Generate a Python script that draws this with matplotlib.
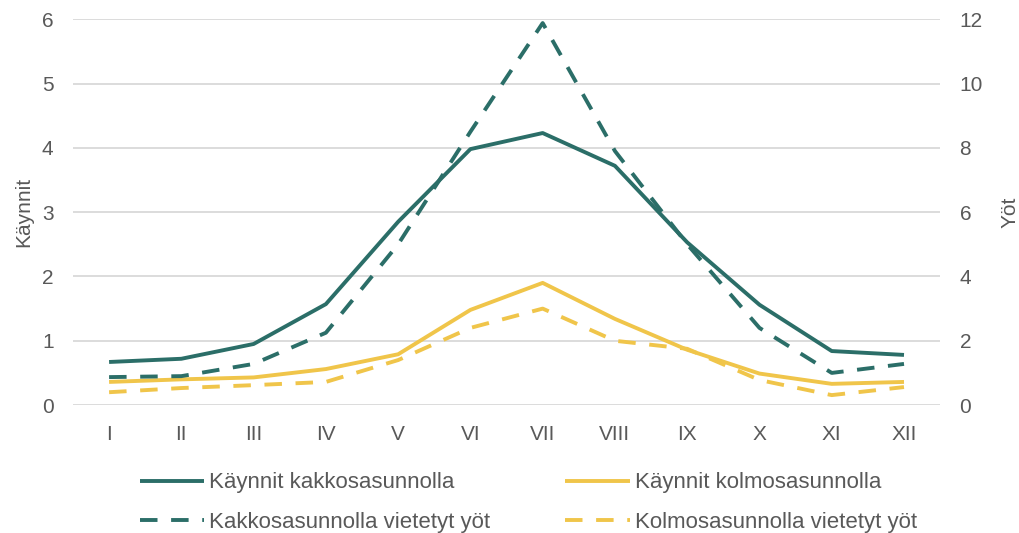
import matplotlib
matplotlib.use("Agg")
import matplotlib.pyplot as plt

plt.rcParams['font.family'] = ['Liberation Sans', 'DejaVu Sans']

# Data
months = ['I', 'II', 'III', 'IV', 'V', 'VI', 'VII', 'VIII', 'IX', 'X', 'XI', 'XII']
visits_second = [0.67, 0.72, 0.95, 1.57, 2.85, 3.98, 4.23, 3.72, 2.53, 1.56, 0.84, 0.78]
visits_third = [0.36, 0.40, 0.43, 0.56, 0.79, 1.48, 1.90, 1.34, 0.86, 0.49, 0.33, 0.36]
nights_second = [0.87, 0.90, 1.28, 2.25, 5.0, 8.5, 11.88, 7.9, 5.0, 2.4, 1.0, 1.28]
nights_third = [0.40, 0.53, 0.62, 0.72, 1.4, 2.4, 3.0, 2.0, 1.75, 0.78, 0.31, 0.56]

teal = '#2b6e68'
yellow = '#f0c54a'
grey_text = '#595959'

fig = plt.figure(figsize=(10.19, 5.33), dpi=100)
ax = fig.add_axes([0.0716, 0.240, 0.851, 0.724])
ax2 = ax.twinx()

x = range(len(months))
l1, = ax.plot(x, visits_second, color=teal, lw=2.8, solid_capstyle='butt',
              label='Käynnit kakkosasunnolla', zorder=3)
l3, = ax.plot(x, visits_third, color=yellow, lw=2.8, solid_capstyle='butt',
              label='Käynnit kolmosasunnolla', zorder=3)
l2, = ax2.plot(x, nights_second, color=teal, lw=2.8, dashes=(4.5, 3.5),
               label='Kakkosasunnolla vietetyt yöt', zorder=3)
l4, = ax2.plot(x, nights_third, color=yellow, lw=2.8, dashes=(4.5, 3.5),
               label='Kolmosasunnolla vietetyt yöt', zorder=3)

ax.set_xlim(-0.5, len(months) - 0.5)
ax.set_ylim(0, 6)
ax2.set_ylim(0, 12)
ax.set_yticks(range(0, 7))
ax2.set_yticks(range(0, 13, 2))
ax.set_xticks(list(x))
ax.set_xticklabels(months)

ax.grid(axis='y', color='#d9d9d9', lw=1.3)
ax.set_axisbelow(True)
for a in (ax, ax2):
    for s in a.spines.values():
        s.set_visible(False)
    a.tick_params(length=0, labelsize=15, labelcolor=grey_text, pad=14)

ax.set_ylabel('Käynnit', fontsize=15, color=grey_text, labelpad=6)
ax2.set_ylabel('Yöt', fontsize=15, color=grey_text, labelpad=13)

fig.legend(handles=[l1, l2, l3, l4], ncol=2, loc='lower left',
           bbox_to_anchor=(0.1178, -0.037), frameon=False, fontsize=16,
           handlelength=2.9, handletextpad=0.22, columnspacing=3.37,
           labelspacing=0.82, labelcolor=grey_text)

fig.savefig('out.png', dpi=100)
